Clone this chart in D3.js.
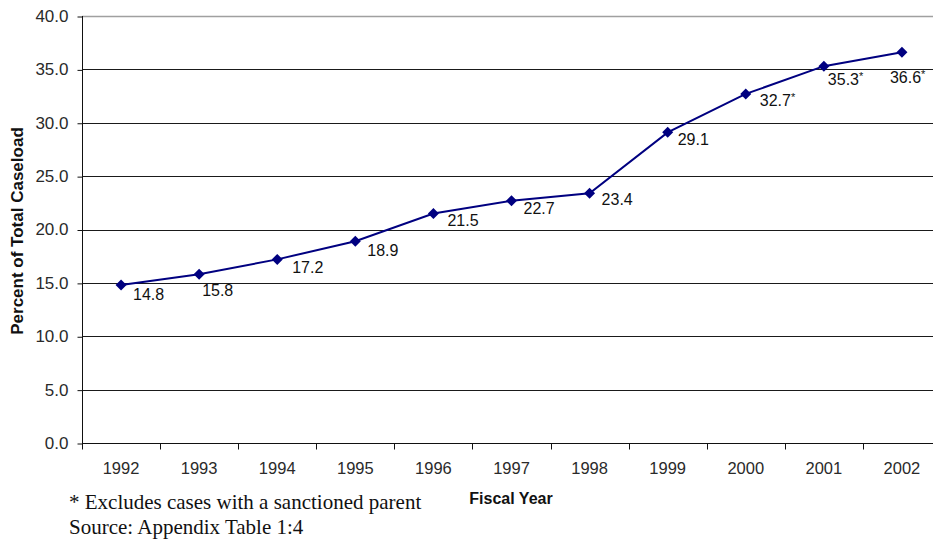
<!DOCTYPE html>
<html>
<head>
<meta charset="utf-8">
<script src="https://cdn.jsdelivr.net/npm/d3@7"></script>
<style>
  html, body { margin: 0; padding: 0; background: #ffffff; }
  svg { display: block; }
</style>
</head>
<body>
<svg id="chart" width="933" height="540"></svg>
<script>
// Fiscal years on the x axis
const years = ["1992", "1993", "1994", "1995", "1996", "1997", "1998", "1999", "2000", "2001", "2002"];
// Percent of total caseload for each year
const percents = [14.8, 15.8, 17.2, 18.9, 21.5, 22.7, 23.4, 29.1, 32.7, 35.3, 36.6];
// Years whose value excludes cases with a sanctioned parent
const flagged = [false, false, false, false, false, false, false, false, true, true, true];
// Y axis tick values
const yTicks = [0, 5, 10, 15, 20, 25, 30, 35, 40];
// Label nudges (pixels from the marker), for labels moved off the line
const labelDx = [12, 3, 15, 12, 14, 12, 12, 10, 14, 4, -12];
const labelDy = [15, 22, 14, 15, 13, 13, 12, 13, 12, 19, 31];

const FONT = "Arial, 'Liberation Sans', sans-serif";
const svg = d3.select("#chart");
const margin = { left: 82, top: 16, right: -8, bottom: 97 };
const W = 933, H = 540;
const x0 = margin.left, x1 = W - margin.right;
const y0 = H - margin.bottom, y1 = margin.top;

const x = d3.scaleBand().domain(years).range([x0, x1]);
const y = d3.scaleLinear().domain([0, 40]).range([y0, y1]);

// gridlines
svg.append("g")
  .selectAll("line")
  .data(yTicks.filter(t => t > 0 && t < 40))
  .join("line")
  .attr("x1", x0).attr("x2", x1)
  .attr("y1", d => Math.round(y(d)) + 0.5).attr("y2", d => Math.round(y(d)) + 0.5)
  .attr("stroke", "#1a1a1a").attr("stroke-width", 1);

// plot area top border
svg.append("line")
  .attr("x1", x0).attr("x2", x1)
  .attr("y1", Math.round(y(40)) + 0.5).attr("y2", Math.round(y(40)) + 0.5)
  .attr("stroke", "#a0a0a0").attr("stroke-width", 1.5);

// y axis
const yAxis = svg.append("g")
  .attr("transform", `translate(${x0 + 0.5},0)`)
  .call(d3.axisLeft(y).tickValues(yTicks).tickSize(5).tickPadding(9).tickFormat(d3.format(".1f")));
yAxis.select(".domain").attr("stroke", "#111").attr("d", `M0,${y1}V${y0 + 0.5}`);
yAxis.selectAll(".tick line").attr("stroke", "#111").attr("transform", "translate(0,0.5)");
yAxis.selectAll(".tick text")
  .attr("font-family", FONT)
  .attr("font-size", 17).attr("fill", "#2a2a2a");

// x axis with ticks between categories
const xAxis = svg.append("g").attr("transform", `translate(0,${Math.round(y0) + 0.5})`);
xAxis.append("line").attr("x1", x0).attr("x2", x1).attr("stroke", "#111");
xAxis.selectAll("line.tk")
  .data(years)
  .join("line")
  .attr("class", "tk")
  .attr("x1", d => Math.round(x(d)) + 0.5).attr("x2", d => Math.round(x(d)) + 0.5)
  .attr("y1", 0).attr("y2", 6)
  .attr("stroke", "#111");
xAxis.selectAll("text")
  .data(years)
  .join("text")
  .attr("x", d => x(d) + x.bandwidth() / 2)
  .attr("y", 30.5)
  .attr("text-anchor", "middle")
  .attr("font-family", FONT)
  .attr("font-size", 16.5).attr("fill", "#2a2a2a")
  .text(d => d);

// series line
const cx = d => x(d) + x.bandwidth() / 2;
const line = d3.line().x(d => cx(d[0])).y(d => y(d[1]));
const pts = years.map((yr, i) => [yr, percents[i]]);
svg.append("path")
  .datum(pts)
  .attr("d", line)
  .attr("fill", "none")
  .attr("stroke", "#000080")
  .attr("stroke-width", 2);

// diamond markers
svg.append("g")
  .selectAll("path")
  .data(pts)
  .join("path")
  .attr("transform", d => `translate(${cx(d[0])},${y(d[1])})`)
  .attr("d", "M0,-5.5L5.5,0L0,5.5L-5.5,0Z")
  .attr("fill", "#000080");

// value labels
const labels = svg.append("g")
  .attr("font-family", FONT)
  .attr("fill", "#111");
pts.forEach((d, i) => {
  const t = labels.append("text")
    .attr("x", cx(d[0]) + labelDx[i])
    .attr("y", y(d[1]) + labelDy[i])
    .attr("font-size", 16);
  t.append("tspan").text(d3.format(".1f")(d[1]));
  if (flagged[i]) t.append("tspan").attr("font-size", 11).attr("dy", -5).text("*");
});

// axis titles
svg.append("text")
  .attr("transform", "translate(23,231) rotate(-90)")
  .attr("text-anchor", "middle")
  .attr("font-family", FONT)
  .attr("font-weight", "bold").attr("font-size", 17).attr("fill", "#111")
  .text("Percent of Total Caseload");

svg.append("text")
  .attr("x", 511).attr("y", 504)
  .attr("text-anchor", "middle")
  .attr("font-family", FONT)
  .attr("font-weight", "bold").attr("font-size", 16).attr("fill", "#111")
  .text("Fiscal Year");

// footnote
const foot = svg.append("g")
  .attr("font-family", "'Times New Roman', 'Liberation Serif', serif")
  .attr("font-size", 21).attr("fill", "#111");
foot.append("text").attr("x", 69).attr("y", 509).text("* Excludes cases with a sanctioned parent");
foot.append("text").attr("x", 69).attr("y", 534).text("Source: Appendix Table 1:4");
</script>
</body>
</html>
